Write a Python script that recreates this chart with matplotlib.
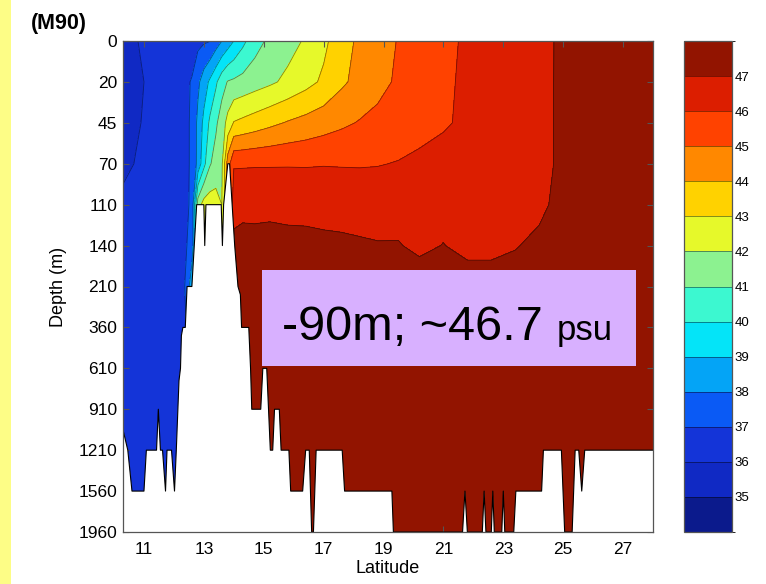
import numpy as np
import matplotlib
matplotlib.use('Agg')
import matplotlib.pyplot as plt
from matplotlib.colors import ListedColormap, BoundaryNorm
from matplotlib.patches import Rectangle

plt.rcParams['font.family'] = ['Liberation Sans', 'DejaVu Sans']

# ---------------- data ----------------
depth_labels = [0, 20, 45, 70, 110, 140, 210, 360, 610, 910, 1210, 1560, 1960]
lat_ticks = [11, 13, 15, 17, 19, 21, 23, 25, 27]
sal_levels = list(range(34, 49))
cbar_ticks = list(range(35, 48))

lats = [10.3, 10.7, 11.2, 11.8, 12.3, 12.6, 12.8, 13.0, 13.2, 13.4, 13.6, 13.8,
        14.0, 14.3, 14.7, 15.2, 15.8, 16.4, 17.0, 17.6, 18.2, 18.8, 19.5, 20.2,
        21.0, 21.8, 22.6, 23.4, 24.2, 24.6, 25.0, 26.0, 27.0, 28.0]

row_depths_m = [0, 20, 45, 70, 110, 140, 210, 1960]

sal_0m = [35.70, 35.95, 36.20, 36.40, 36.55, 36.65, 36.75, 36.88, 36.98, 37.50, 38.00, 38.50,
          39.00, 39.75, 40.60, 41.21, 41.64, 42.11, 42.78, 43.57, 44.20, 44.60, 45.05, 45.40,
          45.80, 46.12, 46.35, 46.59, 46.82, 46.94, 47.20, 47.45, 47.55, 47.60]
sal_20m = [35.60, 35.85, 36.10, 36.35, 36.80, 37.05, 37.78, 38.50, 39.17, 39.83, 40.60, 41.06,
           41.17, 41.33, 41.56, 41.83, 42.22, 42.67, 43.17, 43.83, 44.31, 44.72, 45.14, 45.48,
           45.86, 46.14, 46.38, 46.61, 46.84, 46.95, 47.20, 47.45, 47.55, 47.60]
sal_45m = [35.65, 35.90, 36.15, 36.40, 36.75, 37.10, 38.25, 39.25, 40.17, 40.83, 41.50, 42.33,
           43.06, 43.24, 43.47, 43.76, 44.08, 44.33, 44.58, 44.83, 45.06, 45.24, 45.45, 45.67,
           45.91, 46.15, 46.38, 46.61, 46.84, 46.95, 47.20, 47.45, 47.55, 47.60]
sal_70m = [35.80, 36.02, 36.20, 36.40, 36.75, 37.10, 38.30, 39.70, 40.90, 41.40, 41.80, 44.50,
           45.90, 45.90, 45.92, 45.92, 45.93, 45.92, 45.95, 45.93, 45.92, 45.95, 46.05, 46.20,
           46.30, 46.40, 46.50, 46.60, 46.80, 46.95, 47.20, 47.45, 47.55, 47.60]
sal_110m = [36.20, 36.25, 36.30, 36.40, 36.70, 37.15, 41.50, 42.40, 42.50, 42.40, 42.00, 44.00,
            46.70, 46.80, 46.78, 46.82, 46.80, 46.78, 46.76, 46.75, 46.72, 46.70, 46.72, 46.70,
            46.75, 46.70, 46.68, 46.66, 46.80, 47.05, 47.30, 47.50, 47.60, 47.60]
sal_140m = [36.40, 36.40, 36.40, 36.45, 36.60, 37.50, 40.00, 42.00, 42.00, 42.00, 42.50, 45.00,
            47.20, 47.25, 47.25, 47.25, 47.20, 47.20, 47.15, 47.12, 47.08, 47.04, 47.04, 46.85,
            47.02, 46.78, 46.78, 46.95, 47.20, 47.35, 47.45, 47.55, 47.60, 47.60]
sal_210m = [36.45, 36.45, 36.45, 36.50, 36.60, 38.60, 42.00, 42.00, 42.00, 42.00, 43.00, 46.50,
            47.40, 47.40, 47.40, 47.40, 47.40, 47.40, 47.40, 47.40, 47.40, 47.40, 47.40, 47.40,
            47.40, 47.40, 47.40, 47.40, 47.40, 47.45, 47.50, 47.55, 47.60, 47.60]
sal_1960m = [36.40, 36.40, 36.40, 36.40, 36.50, 36.60, 40.00, 42.00, 42.00, 42.00, 43.00, 46.50,
             47.40, 47.40, 47.40, 47.40, 47.40, 47.40, 47.40, 47.40, 47.40, 47.40, 47.40, 47.40,
             47.40, 47.40, 47.40, 47.40, 47.40, 47.45, 47.50, 47.55, 47.60, 47.60]

# sea-floor profile (latitude, depth-level index)
bottom_lat = [10.30, 10.46, 10.60, 11.00, 11.08, 11.42, 11.48, 11.55, 11.62, 11.72, 11.77, 11.92,
              12.02, 12.08, 12.17, 12.22, 12.25, 12.30, 12.38, 12.44, 12.60, 12.76, 13.00, 13.03,
              13.07, 13.58, 13.62, 13.66, 13.80, 13.86, 14.03, 14.14, 14.22, 14.26, 14.50, 14.56,
              14.60, 14.90, 14.97, 15.10, 15.22, 15.30, 15.36, 15.52, 15.58, 15.84, 15.90, 16.30,
              16.40, 16.52, 16.60, 16.66, 16.75, 17.62, 17.70, 19.28, 19.33, 21.64, 21.72, 21.80,
              22.30, 22.36, 22.42, 22.60, 22.65, 22.70, 22.95, 23.00, 23.05, 23.35, 23.42, 24.28,
              24.34, 24.94, 25.05, 25.30, 25.40, 25.52, 25.62, 25.72, 28.00]
bottom_level = [9.5, 10.0, 11.0, 11.0, 10.0, 10.0, 9.0, 10.0, 10.0, 11.0, 10.0, 10.0,
                11.0, 10.0, 8.3, 8.0, 7.2, 7.0, 7.0, 6.0, 6.0, 4.0, 4.0, 5.0,
                4.0, 4.0, 5.0, 4.0, 3.0, 3.0, 5.0, 6.0, 6.2, 7.0, 7.0, 8.0,
                9.0, 9.0, 8.0, 8.0, 10.0, 10.0, 9.0, 9.0, 10.0, 10.0, 11.0, 11.0,
                10.0, 10.0, 12.0, 12.0, 10.0, 10.0, 11.0, 11.0, 12.0, 12.0, 11.0, 12.0,
                12.0, 11.0, 12.0, 12.0, 11.0, 12.0, 12.0, 11.0, 12.0, 12.0, 11.0, 11.0,
                10.0, 10.0, 12.0, 12.0, 10.0, 10.0, 11.0, 10.0, 10.0]

band_colors = ['#0b1a8c', '#1029c4', '#1434d8', '#0a5af5', '#04a4f6', '#04e4f8', '#3cf8d0',
               '#8cf290', '#e6f92a', '#ffd200', '#ff8800', '#ff4200', '#dc1e00', '#921400']

# ---------------- figure ----------------
W, H = 766, 584
fig = plt.figure(figsize=(W / 100, H / 100), dpi=100)
fig.patch.set_facecolor('white')
fig.add_artist(Rectangle((0, 0), 11 / W, 1, transform=fig.transFigure,
                         facecolor='#FDFD86', edgecolor='none', zorder=0))

ax = fig.add_axes([123 / W, 52 / H, 530 / W, 491 / H])
cax = fig.add_axes([684 / W, 52 / H, 48 / W, 491 / H])

rows = [sal_0m, sal_20m, sal_45m, sal_70m, sal_110m, sal_140m, sal_210m, sal_1960m]
Z = np.array(rows)
row_idx = [depth_labels.index(m) for m in row_depths_m]
X, Y = np.meshgrid(lats, row_idx)

cmap = ListedColormap(band_colors)
norm = BoundaryNorm(sal_levels, cmap.N)

cf = ax.contourf(X, Y, Z, levels=sal_levels, cmap=cmap, norm=norm, zorder=1)
ax.contour(X, Y, Z, levels=sal_levels[1:-1], colors='k', linewidths=0.6, alpha=0.45, zorder=1.5)

ax.fill_between(bottom_lat, bottom_level, len(depth_labels) - 1, facecolor='white',
                edgecolor='none', zorder=3)
ax.plot(bottom_lat, bottom_level, color='k', lw=0.8, zorder=3.5)

ax.set_xlim(10.3, 28.0)
ax.set_ylim(len(depth_labels) - 1, 0)
ax.set_xticks(lat_ticks)
ax.set_xticklabels([str(t) for t in lat_ticks])
ax.set_yticks(range(len(depth_labels)))
ax.set_yticklabels([str(d) for d in depth_labels])
ax.tick_params(direction='in', length=4, width=0.8, color='#555555', labelsize=12.5,
               top=True, right=True)
ax.tick_params(axis='x', pad=7)
ax.tick_params(axis='y', pad=4)
for s in ax.spines.values():
    s.set_color('#555555')
    s.set_linewidth(0.9)
    s.set_zorder(5)
ax.set_xlabel('Latitude', fontsize=13)
ax.set_ylabel('Depth (m)', fontsize=13)
ax.xaxis.set_label_coords(0.499, -0.057)
ax.yaxis.set_label_coords(-0.106, 0.5)

cb = fig.colorbar(cf, cax=cax, ticks=cbar_ticks)
cb.outline.set_edgecolor('#555555')
cb.outline.set_linewidth(0.9)
for v in sal_levels[1:-1]:
    cax.axhline(v, color='k', lw=0.6, alpha=0.5)
cax.tick_params(length=0, pad=2, labelsize=9.5)
cax.set_yticklabels([str(t) for t in cbar_ticks])

fig.text(59 / W, 1 - 23 / H, '(M90)', fontsize=15.5, fontweight='bold', ha='center', va='center')

fig.add_artist(Rectangle((262 / W, 1 - 366 / H), (636 - 262) / W, (366 - 270) / H,
                         transform=fig.transFigure, facecolor='#D8B0FF', edgecolor='none',
                         zorder=6))
fig.text(282 / W, 1 - 340 / H, '-90m; ~46.7', fontsize=35, ha='left', va='baseline', zorder=7)
fig.text(557 / W, 1 - 340 / H, 'psu', fontsize=25, ha='left', va='baseline', zorder=7)

fig.savefig('out.png', dpi=100, facecolor='white')
